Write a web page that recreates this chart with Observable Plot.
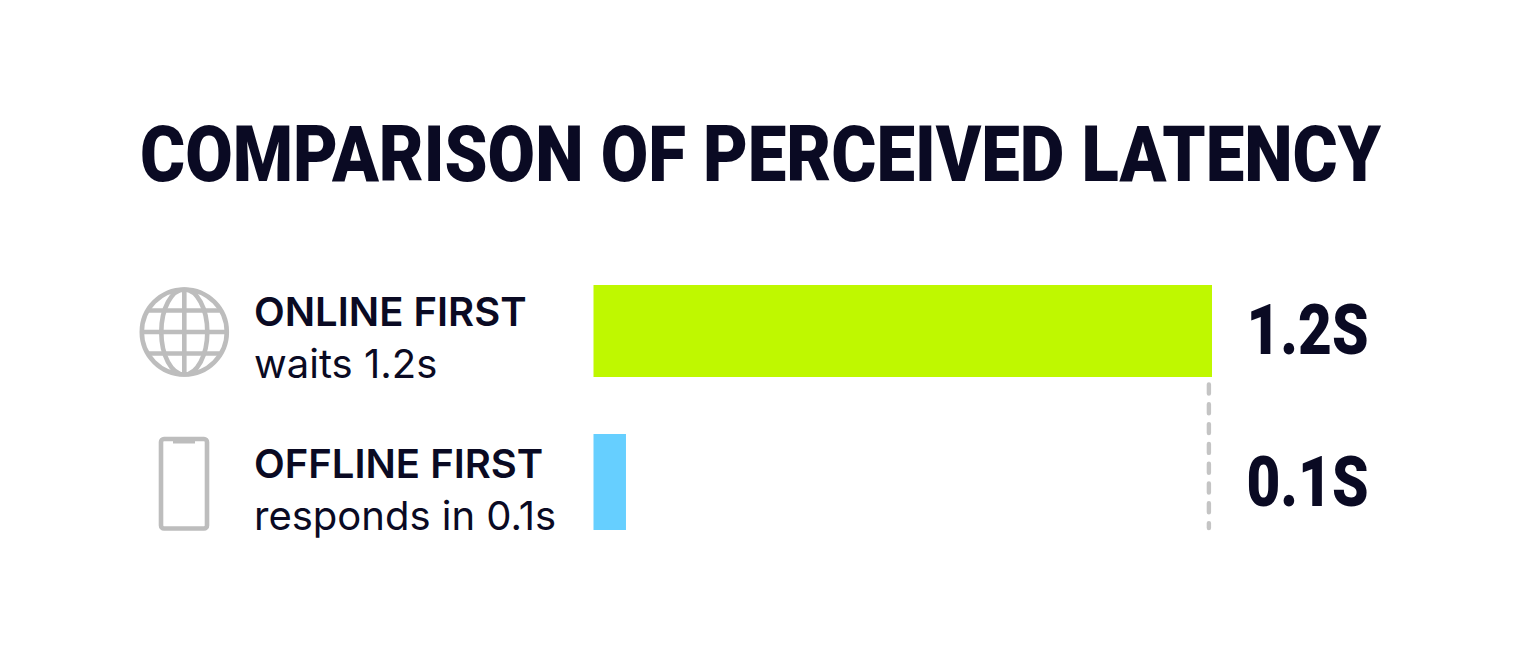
<!DOCTYPE html>
<html><head><meta charset="utf-8">
<script src="https://cdn.jsdelivr.net/npm/d3@7"></script>
<script src="https://cdn.jsdelivr.net/npm/@observablehq/plot@0.6"></script>
<style>
html,body{margin:0;padding:0;background:#fff;overflow:hidden}
#title{height:240px;width:1520px;position:relative;overflow:hidden}
#title span{position:absolute;left:139.5px;top:105px;font:900 78px/100px Roboto,sans-serif;color:#0A0A23;white-space:nowrap;transform-origin:0 0;}
svg{display:block}
</style></head><body>
<div id="title"><span id="t">COMPARISON OF PERCEIVED LATENCY</span></div>
<div id="chart"></div>
<script>
const titleText = "COMPARISON OF PERCEIVED LATENCY";
const categories = ["ONLINE FIRST", "OFFLINE FIRST"];
const subtitles = ["waits 1.2s", "responds in 0.1s"];
const barLengths = [1.2, 0.063];
const valueLabels = ["1.2S", "0.1S"];
const barColors = ["#BFF800", "#66CFFF"];
const referenceValue = [1.193];
const ink = "#0A0A23", grey = "#BDBDBD";
const rows = categories.map((c,i)=>({c, sub:subtitles[i], v:barLengths[i], label:valueLabels[i], color:barColors[i]}));

function icons(){
  const g = d3.create("svg:g").attr("fill","none").attr("stroke",grey).attr("stroke-width",4.6);
  const globe = g.append("g").attr("transform","translate(184.3,92)");
  globe.append("circle").attr("r",42.5);
  globe.append("ellipse").attr("rx",23).attr("ry",42.5);
  globe.append("path").attr("d","M0,-42V42M-42,0H42M-35.5,-21.5H35.5M-35.5,21.5H35.5");
  const phone = g.append("g").attr("transform","translate(161,199)").attr("stroke-width",4.6);
  phone.append("rect").attr("width",46).attr("height",89.5).attr("rx",3);
  phone.append("path").attr("d","M12,0H34V4.5H12Z").attr("fill",grey).attr("stroke","none");
  return g.node();
}

const plot = Plot.plot({
  width:1520, height:430, margin:0,
  x:{domain:[0,1.2], range:[593.5,1212], axis:null},
  y:{type:"band", domain:categories, range:[42,290], paddingInner:56/152, paddingOuter:0, round:false, axis:null},
  marks:[
    Plot.barX(rows.slice(0,1),{x:"v", y:"c", fill:"color", insetTop:3, insetBottom:1}),
    Plot.barX(rows.slice(1),{x:"v", y:"c", fill:"color"}),
    Plot.ruleX(referenceValue,{stroke:"#C4C4C4", strokeWidth:4.4, strokeDasharray:"9 10.8", strokeLinecap:"round", insetTop:144.5, insetBottom:142}),
    icons,
    Plot.text(rows,{text:"c", y:"c", frameAnchor:"left", dx:253.5, dy:-17.5, textAnchor:"start", fontFamily:"Inter", fontWeight:600, fontSize:40, fill:ink}),
    Plot.text(rows,{text:"sub", y:"c", frameAnchor:"left", dx:253.5, dy:35, textAnchor:"start", fontFamily:"Inter", fontWeight:400, fontSize:40, fill:ink}),
    Plot.text(rows,{text:"label", y:"c", frameAnchor:"left", dx:1246, dy:1.5, textAnchor:"start", fontFamily:"Roboto", fontWeight:900, fontSize:70, fill:ink})
  ]
});
document.getElementById("chart").append(plot);
// condense the heavy display type to the reference's widths
const t=document.getElementById("t");
t.style.transform=`scaleX(${1241/t.getBoundingClientRect().width})`;
plot.querySelectorAll("text").forEach(e=>{ if(valueLabels.includes(e.textContent)){e.setAttribute("textLength",122);e.setAttribute("lengthAdjust","spacingAndGlyphs");}});
</script>
</body></html>
